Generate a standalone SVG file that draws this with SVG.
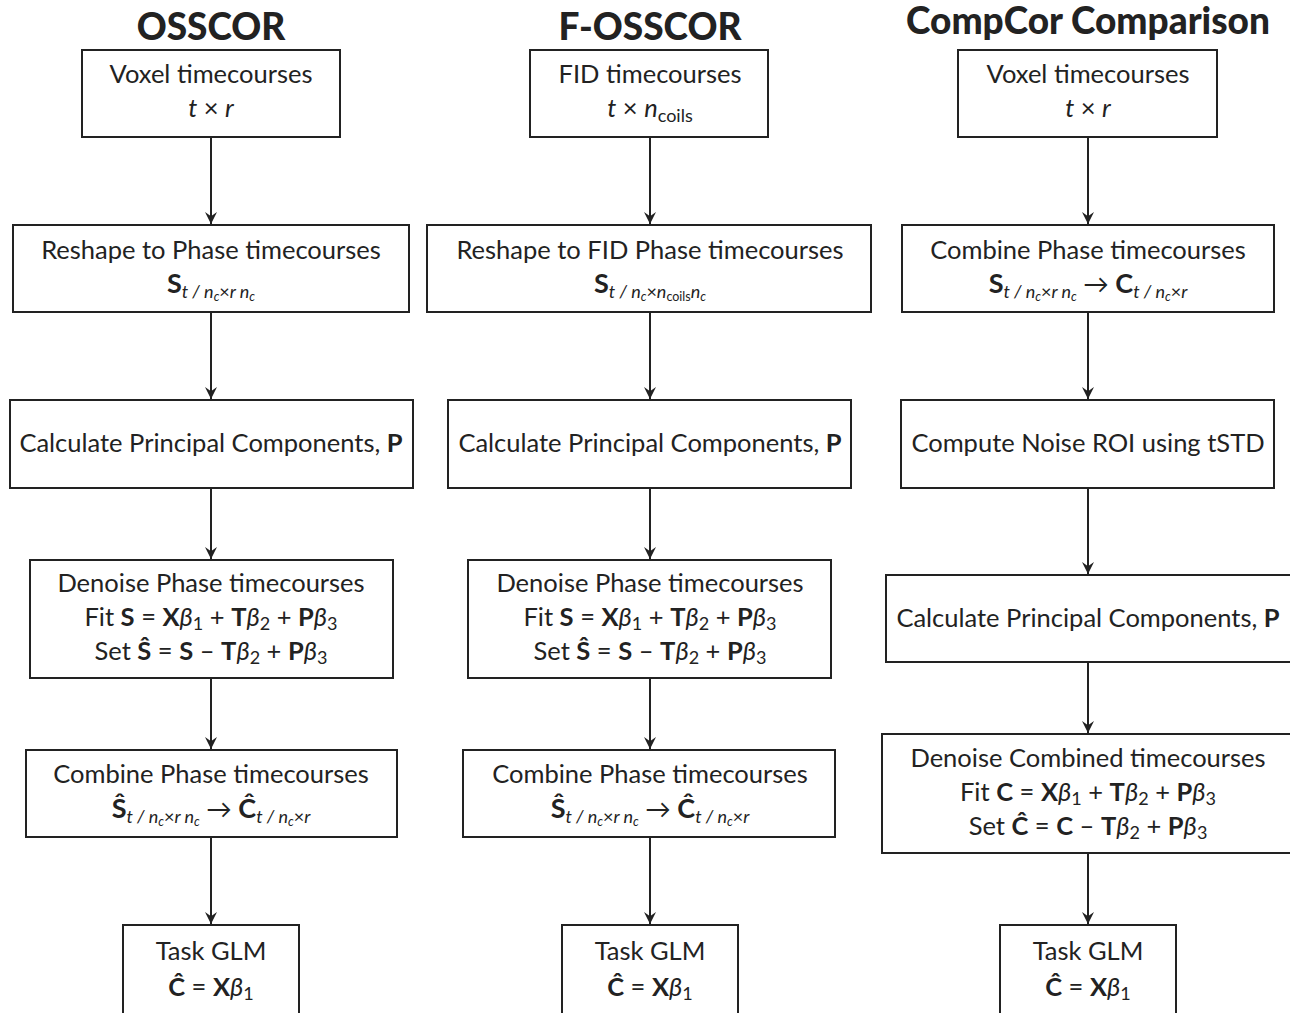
<svg xmlns="http://www.w3.org/2000/svg" width="1290" height="1013" viewBox="0 0 1290 1013">
<defs>
<marker id="ah" viewBox="0 0 10 10" refX="10" refY="5" markerWidth="12" markerHeight="12" markerUnits="userSpaceOnUse" orient="auto">
<path d="M0,0 L10,5 L0,10 L3.5,5 z" fill="#222"/>
</marker>
<style>
.box{fill:#fff;stroke:#222;stroke-width:2}
.t{font-family:Lato,"Open Sans","DejaVu Sans",sans-serif;font-size:25.5px;fill:#222;text-anchor:middle}
.title{font-size:37px;font-weight:900}
.b{font-weight:700}
.i{font-style:italic}
.bs{font-weight:700;font-size:27px}
.s{font-size:18px}
.ss{font-size:12.5px}
.conn line{stroke:#222;stroke-width:2;marker-end:url(#ah)}
</style>
</defs>
<rect width="1290" height="1013" fill="#fff"/>

<g id="titles">
<text class="t title" x="211" y="40">OSSCOR</text>
<text class="t title" x="650" y="40">F-OSSCOR</text>
<text class="t title" x="1088" y="34">CompCor Comparison</text>
</g>

<g class="conn" id="connectors">
<line x1="211" y1="137" x2="211" y2="224"/>
<line x1="211" y1="312" x2="211" y2="399"/>
<line x1="211" y1="488" x2="211" y2="559"/>
<line x1="211" y1="678" x2="211" y2="749"/>
<line x1="211" y1="837" x2="211" y2="924"/>
<line x1="650" y1="137" x2="650" y2="224"/>
<line x1="650" y1="312" x2="650" y2="399"/>
<line x1="650" y1="488" x2="650" y2="559"/>
<line x1="650" y1="678" x2="650" y2="749"/>
<line x1="650" y1="837" x2="650" y2="924"/>
<line x1="1088" y1="137" x2="1088" y2="224"/>
<line x1="1088" y1="312" x2="1088" y2="399"/>
<line x1="1088" y1="488" x2="1088" y2="574"/>
<line x1="1088" y1="662" x2="1088" y2="733"/>
<line x1="1088" y1="853" x2="1088" y2="924"/>
</g>

<!-- Column 1: OSSCOR -->
<g id="o1">
<rect class="box" x="82" y="50" width="258" height="87"/>
<text class="t" x="211" y="83">Voxel timecourses</text>
<text class="t" x="211" y="117"><tspan class="i">t</tspan> × <tspan class="i">r</tspan></text>
</g>
<g id="o2">
<rect class="box" x="13" y="225" width="396" height="87"/>
<text class="t" x="211" y="259">Reshape to Phase timecourses</text>
<text class="t" x="211" y="293"><tspan class="bs">S</tspan><tspan class="s i" dy="5">t / n</tspan><tspan class="ss i" dy="3">c</tspan><tspan class="s" dy="-3">×</tspan><tspan class="s i">r n</tspan><tspan class="ss i" dy="3">c</tspan></text>
</g>
<g id="o3">
<rect class="box" x="10" y="400" width="403" height="88"/>
<text class="t" x="211" y="452">Calculate Principal Components, <tspan class="b">P</tspan></text>
</g>
<g id="o4">
<rect class="box" x="30" y="560" width="363" height="118"/>
<text class="t" x="211" y="592">Denoise Phase timecourses</text>
<text class="t" x="211" y="626">Fit <tspan class="b">S</tspan> = <tspan class="b">X</tspan><tspan class="i">β</tspan><tspan class="s" dy="4">1</tspan><tspan dy="-4"> + </tspan><tspan class="b">T</tspan><tspan class="i">β</tspan><tspan class="s" dy="4">2</tspan><tspan dy="-4"> + </tspan><tspan class="b">P</tspan><tspan class="i">β</tspan><tspan class="s" dy="4">3</tspan></text>
<text class="t" x="211" y="660">Set <tspan class="b">Ŝ</tspan> = <tspan class="b">S</tspan> – <tspan class="b">T</tspan><tspan class="i">β</tspan><tspan class="s" dy="4">2</tspan><tspan dy="-4"> + </tspan><tspan class="b">P</tspan><tspan class="i">β</tspan><tspan class="s" dy="4">3</tspan></text>
</g>
<g id="o5">
<rect class="box" x="26" y="750" width="371" height="87"/>
<text class="t" x="211" y="783">Combine Phase timecourses</text>
<text class="t" x="211" y="818"><tspan class="bs">Ŝ</tspan><tspan class="s i" dy="5">t / n</tspan><tspan class="ss i" dy="3">c</tspan><tspan class="s" dy="-3">×</tspan><tspan class="s i">r n</tspan><tspan class="ss i" dy="3">c</tspan><tspan dy="-8"> → </tspan><tspan class="bs">Ĉ</tspan><tspan class="s i" dy="5">t / n</tspan><tspan class="ss i" dy="3">c</tspan><tspan class="s" dy="-3">×</tspan><tspan class="s i">r</tspan></text>
</g>
<g id="o6">
<rect class="box" x="123" y="925" width="176" height="100"/>
<text class="t" x="211" y="960">Task GLM</text>
<text class="t" x="211" y="996"><tspan class="b">Ĉ</tspan> = <tspan class="b">X</tspan><tspan class="i">β</tspan><tspan class="s" dy="4">1</tspan></text>
</g>

<!-- Column 2: F-OSSCOR -->
<g id="f1">
<rect class="box" x="530" y="50" width="238" height="87"/>
<text class="t" x="650" y="83">FID timecourses</text>
<text class="t" x="650" y="117"><tspan class="i">t</tspan> × <tspan class="i">n</tspan><tspan class="s" dy="5">coils</tspan></text>
</g>
<g id="f2">
<rect class="box" x="427" y="225" width="444" height="87"/>
<text class="t" x="650" y="259">Reshape to FID Phase timecourses</text>
<text class="t" x="650" y="293"><tspan class="bs">S</tspan><tspan class="s i" dy="5">t / n</tspan><tspan class="ss i" dy="3">c</tspan><tspan class="s" dy="-3">×</tspan><tspan class="s i">n</tspan><tspan class="ss" dy="3">coils</tspan><tspan class="s i" dy="-3">n</tspan><tspan class="ss i" dy="3">c</tspan></text>
</g>
<g id="f3">
<rect class="box" x="448" y="400" width="403" height="88"/>
<text class="t" x="650" y="452">Calculate Principal Components, <tspan class="b">P</tspan></text>
</g>
<g id="f4">
<rect class="box" x="468" y="560" width="363" height="118"/>
<text class="t" x="650" y="592">Denoise Phase timecourses</text>
<text class="t" x="650" y="626">Fit <tspan class="b">S</tspan> = <tspan class="b">X</tspan><tspan class="i">β</tspan><tspan class="s" dy="4">1</tspan><tspan dy="-4"> + </tspan><tspan class="b">T</tspan><tspan class="i">β</tspan><tspan class="s" dy="4">2</tspan><tspan dy="-4"> + </tspan><tspan class="b">P</tspan><tspan class="i">β</tspan><tspan class="s" dy="4">3</tspan></text>
<text class="t" x="650" y="660">Set <tspan class="b">Ŝ</tspan> = <tspan class="b">S</tspan> – <tspan class="b">T</tspan><tspan class="i">β</tspan><tspan class="s" dy="4">2</tspan><tspan dy="-4"> + </tspan><tspan class="b">P</tspan><tspan class="i">β</tspan><tspan class="s" dy="4">3</tspan></text>
</g>
<g id="f5">
<rect class="box" x="463" y="750" width="372" height="87"/>
<text class="t" x="650" y="783">Combine Phase timecourses</text>
<text class="t" x="650" y="818"><tspan class="bs">Ŝ</tspan><tspan class="s i" dy="5">t / n</tspan><tspan class="ss i" dy="3">c</tspan><tspan class="s" dy="-3">×</tspan><tspan class="s i">r n</tspan><tspan class="ss i" dy="3">c</tspan><tspan dy="-8"> → </tspan><tspan class="bs">Ĉ</tspan><tspan class="s i" dy="5">t / n</tspan><tspan class="ss i" dy="3">c</tspan><tspan class="s" dy="-3">×</tspan><tspan class="s i">r</tspan></text>
</g>
<g id="f6">
<rect class="box" x="562" y="925" width="176" height="100"/>
<text class="t" x="650" y="960">Task GLM</text>
<text class="t" x="650" y="996"><tspan class="b">Ĉ</tspan> = <tspan class="b">X</tspan><tspan class="i">β</tspan><tspan class="s" dy="4">1</tspan></text>
</g>

<!-- Column 3: CompCor -->
<g id="c1">
<rect class="box" x="958" y="50" width="259" height="87"/>
<text class="t" x="1088" y="83">Voxel timecourses</text>
<text class="t" x="1088" y="117"><tspan class="i">t</tspan> × <tspan class="i">r</tspan></text>
</g>
<g id="c2">
<rect class="box" x="902" y="225" width="372" height="87"/>
<text class="t" x="1088" y="259">Combine Phase timecourses</text>
<text class="t" x="1088" y="293"><tspan class="bs">S</tspan><tspan class="s i" dy="5">t / n</tspan><tspan class="ss i" dy="3">c</tspan><tspan class="s" dy="-3">×</tspan><tspan class="s i">r n</tspan><tspan class="ss i" dy="3">c</tspan><tspan dy="-8"> → </tspan><tspan class="bs">C</tspan><tspan class="s i" dy="5">t / n</tspan><tspan class="ss i" dy="3">c</tspan><tspan class="s" dy="-3">×</tspan><tspan class="s i">r</tspan></text>
</g>
<g id="c3">
<rect class="box" x="901" y="400" width="373" height="88"/>
<text class="t" x="1088" y="452">Compute Noise ROI using tSTD</text>
</g>
<g id="c4">
<rect class="box" x="886" y="575" width="410" height="87"/>
<text class="t" x="1088" y="627">Calculate Principal Components, <tspan class="b">P</tspan></text>
</g>
<g id="c5">
<rect class="box" x="882" y="734" width="414" height="119"/>
<text class="t" x="1088" y="767">Denoise Combined timecourses</text>
<text class="t" x="1088" y="801">Fit <tspan class="b">C</tspan> = <tspan class="b">X</tspan><tspan class="i">β</tspan><tspan class="s" dy="4">1</tspan><tspan dy="-4"> + </tspan><tspan class="b">T</tspan><tspan class="i">β</tspan><tspan class="s" dy="4">2</tspan><tspan dy="-4"> + </tspan><tspan class="b">P</tspan><tspan class="i">β</tspan><tspan class="s" dy="4">3</tspan></text>
<text class="t" x="1088" y="835">Set <tspan class="b">Ĉ</tspan> = <tspan class="b">C</tspan> – <tspan class="b">T</tspan><tspan class="i">β</tspan><tspan class="s" dy="4">2</tspan><tspan dy="-4"> + </tspan><tspan class="b">P</tspan><tspan class="i">β</tspan><tspan class="s" dy="4">3</tspan></text>
</g>
<g id="c6">
<rect class="box" x="1000" y="925" width="176" height="100"/>
<text class="t" x="1088" y="960">Task GLM</text>
<text class="t" x="1088" y="996"><tspan class="b">Ĉ</tspan> = <tspan class="b">X</tspan><tspan class="i">β</tspan><tspan class="s" dy="4">1</tspan></text>
</g>
</svg>
